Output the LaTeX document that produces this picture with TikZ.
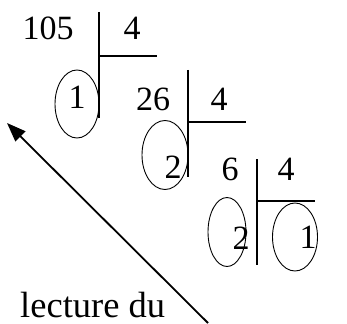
\documentclass[tikz,border=0pt]{standalone}
\usepackage{fontspec}
\setmainfont{Liberation Serif}
\usetikzlibrary{shapes.geometric,arrows.meta}
\begin{document}
\begin{tikzpicture}[x=1pt,y=-1pt,
  num/.style={inner sep=0pt,font=\fontsize{34}{40}\selectfont},
  rest/.style={draw,ellipse,line width=0.9pt,inner sep=0pt},
  bar/.style={line width=1.3pt}]
\useasboundingbox (0,0) rectangle (347,323);
% division 1
\node[num] (n105) at (48,28) {105};
\node[num] (d1) at (132,28) {4};
\coordinate (v1t) at (99,12); \coordinate (v1b) at (99,118);
\coordinate (h1l) at (99,56); \coordinate (h1r) at (157,56);
\draw[bar] (v1t) -- (v1b); \draw[bar] (h1l) -- (h1r);
\node[rest,minimum width=44pt,minimum height=68pt] (e1) at (77,104) {};
\node[num] (r1) at (77,97) {1};
% division 2
\node[num] (n26) at (153,99) {26};
\node[num] (d2) at (219,99) {4};
\coordinate (v2t) at (188,70); \coordinate (v2b) at (188,177);
\coordinate (h2l) at (188,122); \coordinate (h2r) at (246,122);
\draw[bar] (v2t) -- (v2b); \draw[bar] (h2l) -- (h2r);
\node[rest,minimum width=46pt,minimum height=69pt] (e2) at (165,155) {};
\node[num] (r2) at (173,167) {2};
% division 3
\node[num] (n6) at (230,169) {6};
\node[num] (d3) at (286,169) {4};
\coordinate (v3t) at (257,159); \coordinate (v3b) at (257,265);
\coordinate (h3l) at (257,201); \coordinate (h3r) at (315,201);
\draw[bar] (v3t) -- (v3b); \draw[bar] (h3l) -- (h3r);
\node[rest,minimum width=38pt,minimum height=69pt] (e3) at (227,232) {};
\node[num] (r3) at (241,238) {2};
\node[rest,minimum width=45pt,minimum height=68pt] (e4) at (295,237) {};
\node[num] (q3) at (308,237) {1};
% arrow
\coordinate (as) at (208,323);
\coordinate (ae) at (7,123);
\draw[line width=1.8pt,-{Triangle[length=19pt,width=14pt]}] (as) -- (ae);
\node[inner sep=0pt,text depth=0pt,font=\fontsize{36.5}{42}\selectfont,anchor=base west] (lbl) at (20,317) {lecture du};
\end{tikzpicture}
\end{document}
